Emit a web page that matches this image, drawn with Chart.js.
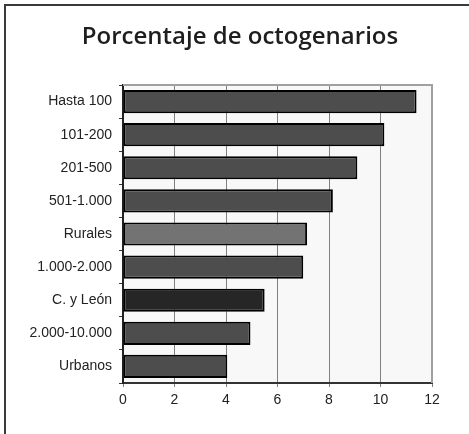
<!DOCTYPE html>
<html lang="es">
  <head>
    <meta charset="UTF-8" />
    <title>Porcentaje de octogenarios</title>
    <script src="https://cdn.jsdelivr.net/npm/chart.js"></script>
    <style>
      body {
        margin: 0;
        background-color: #fff;
      }
      #wrap {
        width: 469px;
        height: 434px;
      }
    </style>
  </head>
  <body>
    <div id="wrap">
      <canvas id="myChart" width="469" height="434"></canvas>
    </div>
    <script>
      const categories = [
        "Hasta 100",
        "101-200",
        "201-500",
        "501-1.000",
        "Rurales",
        "1.000-2.000",
        "C. y León",
        "2.000-10.000",
        "Urbanos",
      ];
      const percentages = [11.4, 10.15, 9.1, 8.15, 7.15, 7.0, 5.5, 4.95, 4.05];
      const xTicks = [0, 2, 4, 6, 8, 10, 12];

      const barColors = categories.map((c) => {
        if (c === "Rurales") return "#737373";
        if (c === "C. y León") return "#262626";
        return "#4d4d4d";
      });

      // page frame, plot background, plot top edge and the title
      const backdrop = {
        id: "backdrop",
        beforeDraw(chart) {
          const { ctx, chartArea: a } = chart;
          ctx.save();
          ctx.fillStyle = "#f8f8f8";
          ctx.fillRect(a.left, a.top, a.right - a.left, a.bottom - a.top);

          ctx.strokeStyle = "#3a3a3a";
          ctx.lineWidth = 2;
          ctx.beginPath();
          ctx.moveTo(5, 440);
          ctx.lineTo(5, 5);
          ctx.lineTo(475, 5);
          ctx.stroke();

          ctx.fillStyle = "#1e1e1e";
          ctx.font = "600 24px 'Open Sans'";
          ctx.textAlign = "center";
          ctx.textBaseline = "alphabetic";
          ctx.fillText("Porcentaje de octogenarios", 240, 44);
          ctx.restore();
        },
        beforeDatasetsDraw(chart) {
          const { ctx, chartArea: a } = chart;
          ctx.save();
          ctx.strokeStyle = "#a0a0a0";
          ctx.lineWidth = 2;
          ctx.beginPath();
          ctx.moveTo(a.left, a.top);
          ctx.lineTo(a.right, a.top);
          ctx.lineTo(a.right, a.bottom);
          ctx.stroke();
          ctx.restore();
        },
      };

      const myChart = new Chart(document.getElementById("myChart"), {
        type: "bar",
        data: {
          labels: categories,
          datasets: [
            {
              data: percentages,
              backgroundColor: barColors,
              borderColor: "#000",
              borderWidth: 2,
              borderSkipped: false,
              barPercentage: 0.7,
              categoryPercentage: 1,
            },
          ],
        },
        options: {
          indexAxis: "y",
          responsive: false,
          animation: false,
          layout: {
            padding: { top: 85, right: 37, left: 0, bottom: 0 },
          },
          scales: {
            x: {
              min: 0,
              max: 12,
              afterBuildTicks(scale) {
                scale.ticks = xTicks.map((v) => ({ value: v }));
              },
              afterFit(scale) {
                scale.height = 51;
              },
              grid: {
                color: "#808080",
                lineWidth: 1,
                tickLength: 4,
              },
              border: { color: "#333", width: 2 },
              ticks: {
                color: "#222",
                padding: 5,
                font: { family: "'Liberation Sans', Arial", size: 14 },
              },
            },
            y: {
              afterFit(scale) {
                scale.width = 123;
              },
              grid: {
                drawOnChartArea: false,
                color: "#333",
                tickLength: 4,
              },
              border: { color: "#222", width: 2 },
              ticks: {
                color: "#222",
                padding: 7,
                font: { family: "'Liberation Sans', Arial", size: 14 },
              },
            },
          },
          plugins: {
            legend: { display: false },
            tooltip: { enabled: false },
          },
        },
        plugins: [backdrop],
      });
    </script>
  </body>
</html>
